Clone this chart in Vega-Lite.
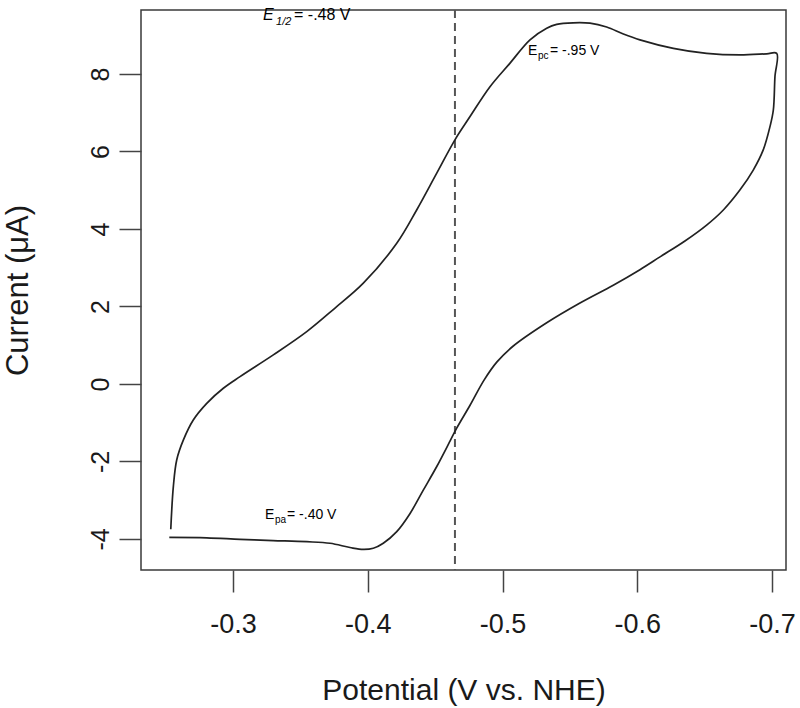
{
  "$schema": "https://vega.github.io/schema/vega-lite/v6.json",
  "width": 645,
  "height": 560,
  "autosize": {"type": "none"},
  "padding": {"left": 141, "top": 10, "right": 14, "bottom": 138},
  "background": "white",
  "config": {
    "view": {"stroke": "#3a3a3a", "strokeWidth": 1.5},
    "font": "Liberation Sans",
    "axis": {"grid": false, "domain": false, "tickColor": "#444444", "tickWidth": 1.5, "tickSize": 22, "labelColor": "#1a1a1a", "titleColor": "#1a1a1a", "labelFont": "Liberation Sans", "titleFont": "Liberation Sans", "titleFontWeight": "normal"}
  },
  "datasets": {
    "cv": [
      {"i": 1, "E": -0.2538, "I": -3.75},
      {"i": 2, "E": -0.2557, "I": -2.65},
      {"i": 3, "E": -0.2582, "I": -1.96},
      {"i": 4, "E": -0.2631, "I": -1.45},
      {"i": 5, "E": -0.2705, "I": -0.93},
      {"i": 6, "E": -0.2805, "I": -0.50},
      {"i": 7, "E": -0.2928, "I": -0.11},
      {"i": 8, "E": -0.3052, "I": 0.19},
      {"i": 9, "E": -0.3299, "I": 0.75},
      {"i": 10, "E": -0.3547, "I": 1.35},
      {"i": 11, "E": -0.3757, "I": 1.96},
      {"i": 12, "E": -0.3967, "I": 2.60},
      {"i": 13, "E": -0.4215, "I": 3.63},
      {"i": 14, "E": -0.4363, "I": 4.49},
      {"i": 15, "E": -0.4512, "I": 5.44},
      {"i": 16, "E": -0.4647, "I": 6.30},
      {"i": 17, "E": -0.4759, "I": 6.90},
      {"i": 18, "E": -0.4907, "I": 7.67},
      {"i": 19, "E": -0.5056, "I": 8.28},
      {"i": 20, "E": -0.5204, "I": 8.88},
      {"i": 21, "E": -0.5328, "I": 9.18},
      {"i": 22, "E": -0.5402, "I": 9.28},
      {"i": 23, "E": -0.5525, "I": 9.32},
      {"i": 24, "E": -0.5649, "I": 9.31},
      {"i": 25, "E": -0.5773, "I": 9.21},
      {"i": 26, "E": -0.5897, "I": 9.03},
      {"i": 27, "E": -0.6020, "I": 8.88},
      {"i": 28, "E": -0.6268, "I": 8.66},
      {"i": 29, "E": -0.6515, "I": 8.53},
      {"i": 30, "E": -0.6763, "I": 8.49},
      {"i": 31, "E": -0.6961, "I": 8.52},
      {"i": 32, "E": -0.7035, "I": 8.53},
      {"i": 34, "E": -0.7022, "I": 7.93},
      {"i": 35, "E": -0.7010, "I": 7.07},
      {"i": 36, "E": -0.6985, "I": 6.64},
      {"i": 37, "E": -0.6935, "I": 6.04},
      {"i": 38, "E": -0.6861, "I": 5.52},
      {"i": 39, "E": -0.6763, "I": 5.01},
      {"i": 40, "E": -0.6639, "I": 4.49},
      {"i": 41, "E": -0.6515, "I": 4.10},
      {"i": 42, "E": -0.6354, "I": 3.69},
      {"i": 43, "E": -0.6169, "I": 3.28},
      {"i": 44, "E": -0.6020, "I": 2.95},
      {"i": 45, "E": -0.5822, "I": 2.55},
      {"i": 46, "E": -0.5575, "I": 2.09},
      {"i": 47, "E": -0.5328, "I": 1.58},
      {"i": 48, "E": -0.5080, "I": 0.98},
      {"i": 49, "E": -0.4959, "I": 0.57},
      {"i": 50, "E": -0.4863, "I": 0.10},
      {"i": 51, "E": -0.4759, "I": -0.55},
      {"i": 52, "E": -0.4660, "I": -1.14},
      {"i": 53, "E": -0.4614, "I": -1.45},
      {"i": 54, "E": -0.4512, "I": -2.13},
      {"i": 55, "E": -0.4412, "I": -2.74},
      {"i": 56, "E": -0.4314, "I": -3.34},
      {"i": 57, "E": -0.4215, "I": -3.81},
      {"i": 58, "E": -0.4115, "I": -4.11},
      {"i": 59, "E": -0.4041, "I": -4.24},
      {"i": 60, "E": -0.3967, "I": -4.27},
      {"i": 61, "E": -0.3868, "I": -4.22},
      {"i": 62, "E": -0.3720, "I": -4.11},
      {"i": 63, "E": -0.3547, "I": -4.07},
      {"i": 64, "E": -0.3297, "I": -4.04},
      {"i": 65, "E": -0.3052, "I": -4.01},
      {"i": 66, "E": -0.2805, "I": -3.97},
      {"i": 67, "E": -0.2527, "I": -3.96}
    ],
    "half": [{"E": -0.4647}],
    "italicMain": [{"E": -0.32226, "I": 9.39, "t": "E"}],
    "italicSub": [{"E": -0.33191, "I": 9.26, "t": "1/2"}],
    "mainTop": [{"E": -0.34527, "I": 9.39, "t": "= -.48 V"}],
    "main": [
      {"E": -0.51892, "I": 8.49, "t": "E"},
      {"E": -0.53525, "I": 8.49, "t": "= -.95 V"},
      {"E": -0.32375, "I": -3.484, "t": "E"},
      {"E": -0.34007, "I": -3.484, "t": "= -.40 V"}
    ],
    "sub": [
      {"E": -0.52634, "I": 8.387, "t": "pc"},
      {"E": -0.33117, "I": -3.587, "t": "pa"}
    ]
  },
  "encoding": {
    "x": {
      "field": "E", "type": "quantitative",
      "scale": {"domain": [-0.7104, -0.2317], "reverse": true, "nice": false, "zero": false},
      "axis": {"title": "Potential (V vs. NHE)", "values": [-0.3, -0.4, -0.5, -0.6, -0.7], "labelExpr": "'-' + format(-datum.value, '.1f')", "labelFontSize": 27, "labelPadding": 19, "titleFontSize": 30, "titlePadding": 38}
    },
    "y": {
      "field": "I", "type": "quantitative",
      "scale": {"domain": [-4.8, 9.65], "nice": false, "zero": false},
      "axis": {"title": "Current (μA)", "values": [-4, -2, 0, 2, 4, 6, 8], "labelExpr": "datum.value < 0 ? '-' + format(-datum.value, 'd') : format(datum.value, 'd')", "labelAngle": -90, "labelAlign": "center", "labelBaseline": "alphabetic", "labelFontSize": 25, "labelPadding": 11, "titleFontSize": 31, "titlePadding": 54}
    }
  },
  "layer": [
    {
      "data": {"name": "half"},
      "mark": {"type": "rule", "stroke": "#555555", "strokeWidth": 2, "strokeDash": [8, 5]},
      "encoding": {"x": {"field": "E", "type": "quantitative"}, "y": null}
    },
    {
      "data": {"name": "cv"},
      "mark": {"type": "line", "stroke": "#222222", "strokeWidth": 1.7, "interpolate": "catmull-rom"},
      "encoding": {"order": {"field": "i", "type": "quantitative"}}
    },
    {
      "data": {"name": "italicMain"},
      "mark": {"type": "text", "align": "left", "baseline": "alphabetic", "fontSize": 16, "fontStyle": "italic", "color": "#000000"},
      "encoding": {"text": {"field": "t"}}
    },
    {
      "data": {"name": "italicSub"},
      "mark": {"type": "text", "align": "left", "baseline": "alphabetic", "fontSize": 11, "fontStyle": "italic", "color": "#000000"},
      "encoding": {"text": {"field": "t"}}
    },
    {
      "data": {"name": "mainTop"},
      "mark": {"type": "text", "align": "left", "baseline": "alphabetic", "fontSize": 16, "color": "#000000"},
      "encoding": {"text": {"field": "t"}}
    },
    {
      "data": {"name": "main"},
      "mark": {"type": "text", "align": "left", "baseline": "alphabetic", "fontSize": 14, "color": "#000000"},
      "encoding": {"text": {"field": "t"}}
    },
    {
      "data": {"name": "sub"},
      "mark": {"type": "text", "align": "left", "baseline": "alphabetic", "fontSize": 10, "color": "#000000"},
      "encoding": {"text": {"field": "t"}}
    }
  ]
}
